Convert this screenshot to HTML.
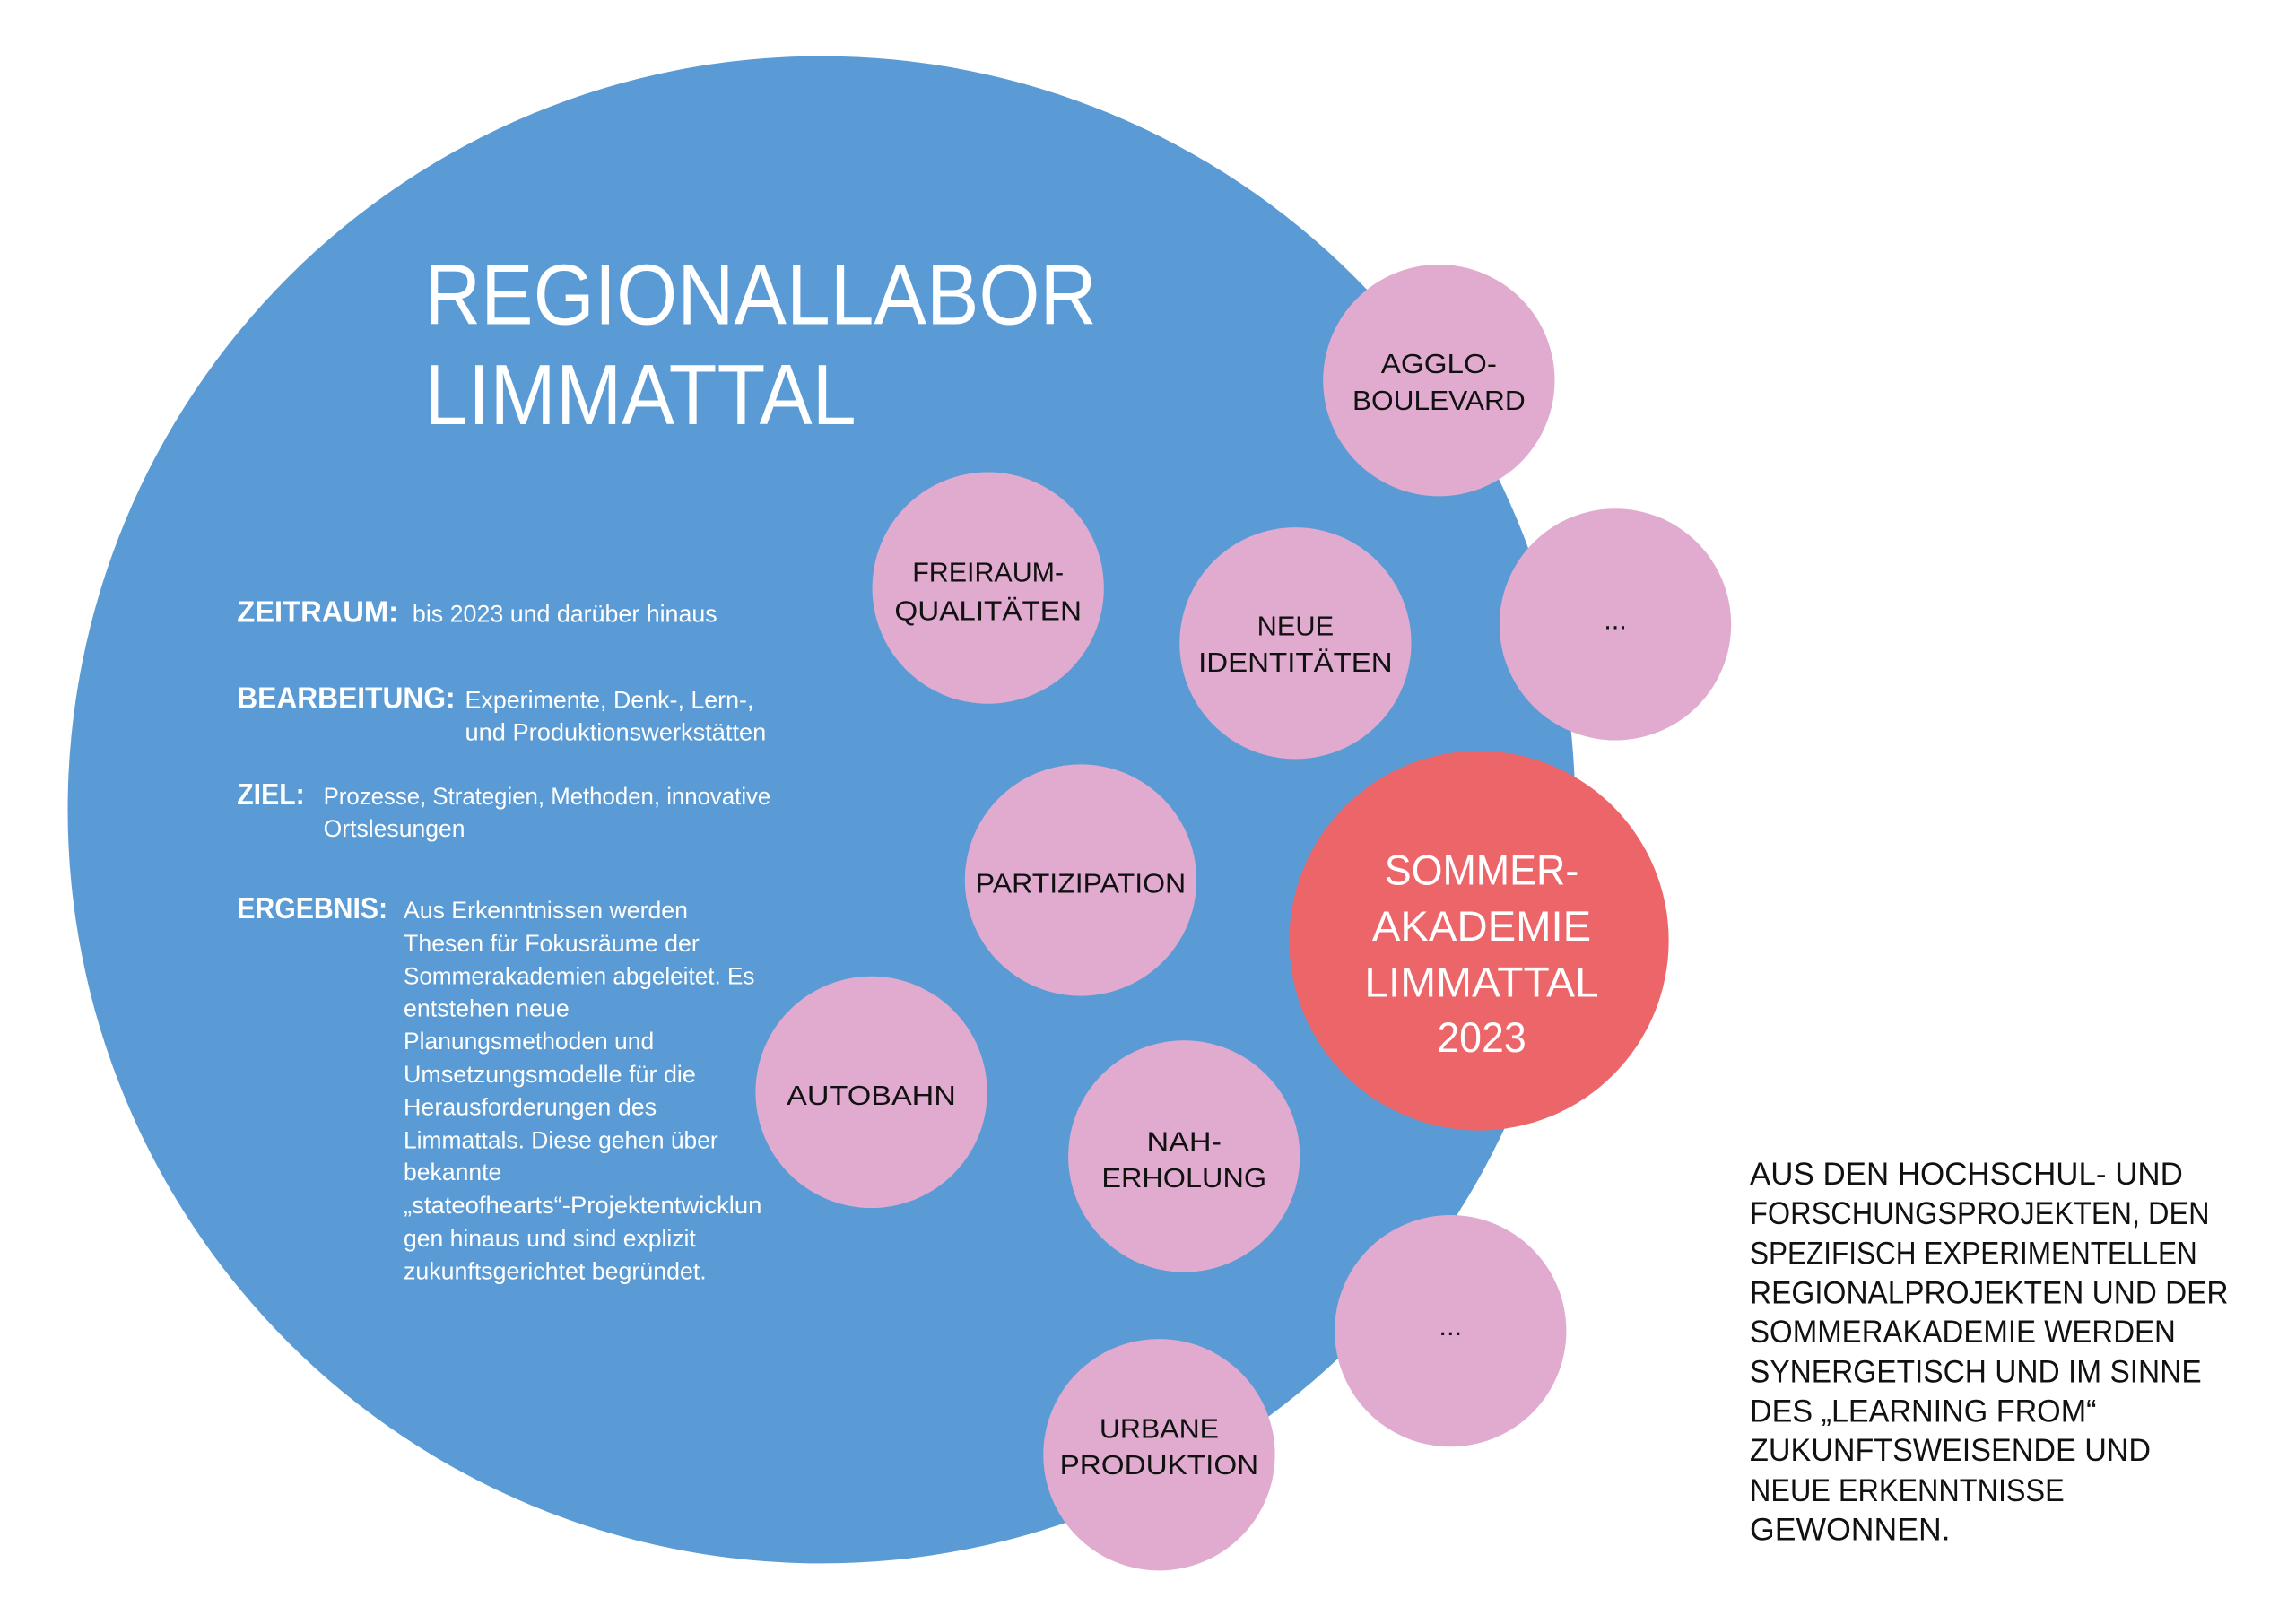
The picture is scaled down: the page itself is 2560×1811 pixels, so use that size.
<!DOCTYPE html>
<html><head><meta charset="utf-8"><style>
html,body{margin:0;padding:0;background:#fff;}
svg{display:block;}
text{font-family:"Liberation Sans",sans-serif;}
</style></head><body>
<svg width="2560" height="1811" viewBox="0 0 2560 1811" xmlns="http://www.w3.org/2000/svg">
<g transform="scale(0.9934)">
<circle cx="922" cy="909" r="846" fill="#5a9bd5"/>
<g fill="#e0abcf">
<circle cx="1615" cy="427" r="130"/>
<circle cx="1813" cy="701" r="130"/>
<circle cx="1109" cy="660" r="130"/>
<circle cx="1454" cy="722" r="130"/>
<circle cx="1213" cy="988" r="130"/>
<circle cx="978" cy="1226" r="130"/>
<circle cx="1329" cy="1298" r="130"/>
<circle cx="1628" cy="1494" r="130"/>
<circle cx="1301" cy="1633" r="130"/>
</g>
<circle cx="1660" cy="1056" r="213" fill="#ec6569"/>

<g fill="#fff">
<text x="476" y="364" font-size="96" textLength="755" lengthAdjust="spacingAndGlyphs">REGIONALLABOR</text>
<text x="476" y="476" font-size="96" textLength="485" lengthAdjust="spacingAndGlyphs">LIMMATTAL</text>

<g font-weight="bold">
<text x="266" y="698" font-size="34" textLength="181" lengthAdjust="spacingAndGlyphs">ZEITRAUM:</text>
<text x="266" y="795" font-size="34" textLength="245" lengthAdjust="spacingAndGlyphs">BEARBEITUNG:</text>
<text x="266" y="903" font-size="34" textLength="76" lengthAdjust="spacingAndGlyphs">ZIEL:</text>
<text x="266" y="1031" font-size="34" textLength="169" lengthAdjust="spacingAndGlyphs">ERGEBNIS:</text>
</g>
<text x="463" y="698" font-size="27" textLength="342" lengthAdjust="spacingAndGlyphs">bis 2023 und darüber hinaus</text>
<text x="522" y="795" font-size="27" textLength="324" lengthAdjust="spacingAndGlyphs">Experimente, Denk-, Lern-,</text>
<text x="522" y="831" font-size="27" textLength="338" lengthAdjust="spacingAndGlyphs">und Produktionswerkstätten</text>
<text x="363" y="903" font-size="27" textLength="502" lengthAdjust="spacingAndGlyphs">Prozesse, Strategien, Methoden, innovative</text>
<text x="363" y="939" font-size="27" textLength="159" lengthAdjust="spacingAndGlyphs">Ortslesungen</text>
<g font-size="27">
<text x="453" y="1031" textLength="319" lengthAdjust="spacingAndGlyphs">Aus Erkenntnissen werden</text>
<text x="453" y="1068" textLength="332" lengthAdjust="spacingAndGlyphs">Thesen für Fokusräume der</text>
<text x="453" y="1105" textLength="394" lengthAdjust="spacingAndGlyphs">Sommerakademien abgeleitet. Es</text>
<text x="453" y="1141" textLength="186" lengthAdjust="spacingAndGlyphs">entstehen neue</text>
<text x="453" y="1178" textLength="281" lengthAdjust="spacingAndGlyphs">Planungsmethoden und</text>
<text x="453" y="1215" textLength="328" lengthAdjust="spacingAndGlyphs">Umsetzungsmodelle für die</text>
<text x="453" y="1252" textLength="284" lengthAdjust="spacingAndGlyphs">Herausforderungen des</text>
<text x="453" y="1289" textLength="353" lengthAdjust="spacingAndGlyphs">Limmattals. Diese gehen über</text>
<text x="453" y="1325" textLength="110" lengthAdjust="spacingAndGlyphs">bekannte</text>
<text x="453" y="1362" textLength="402" lengthAdjust="spacingAndGlyphs">„stateofhearts“-Projektentwicklun</text>
<text x="453" y="1399" textLength="328" lengthAdjust="spacingAndGlyphs">gen hinaus und sind explizit</text>
<text x="453" y="1436" textLength="340" lengthAdjust="spacingAndGlyphs">zukunftsgerichtet begründet.</text>
</g>

<g font-size="48" text-anchor="middle">
<text x="1663" y="993" textLength="218" lengthAdjust="spacingAndGlyphs">SOMMER-</text>
<text x="1663" y="1056" textLength="246" lengthAdjust="spacingAndGlyphs">AKADEMIE</text>
<text x="1663" y="1119" textLength="263" lengthAdjust="spacingAndGlyphs">LIMMATTAL</text>
<text x="1663" y="1181" textLength="100" lengthAdjust="spacingAndGlyphs">2023</text>
</g>
</g>

<g fill="#111" font-size="31" text-anchor="middle">
<text x="1615" y="419" textLength="130" lengthAdjust="spacingAndGlyphs">AGGLO-</text>
<text x="1615" y="460" textLength="194" lengthAdjust="spacingAndGlyphs">BOULEVARD</text>
<text x="1813" y="706">...</text>
<text x="1109" y="653" textLength="170" lengthAdjust="spacingAndGlyphs">FREIRAUM-</text>
<text x="1109" y="696" textLength="210" lengthAdjust="spacingAndGlyphs">QUALITÄTEN</text>
<text x="1454" y="713" textLength="86" lengthAdjust="spacingAndGlyphs">NEUE</text>
<text x="1454" y="754" textLength="218" lengthAdjust="spacingAndGlyphs">IDENTITÄTEN</text>
<text x="1213" y="1002" textLength="236" lengthAdjust="spacingAndGlyphs">PARTIZIPATION</text>
<text x="978" y="1240" textLength="190" lengthAdjust="spacingAndGlyphs">AUTOBAHN</text>
<text x="1329" y="1292" textLength="84" lengthAdjust="spacingAndGlyphs">NAH-</text>
<text x="1329" y="1333" textLength="185" lengthAdjust="spacingAndGlyphs">ERHOLUNG</text>
<text x="1628" y="1499">...</text>
<text x="1301" y="1614" textLength="134" lengthAdjust="spacingAndGlyphs">URBANE</text>
<text x="1301" y="1655" textLength="223" lengthAdjust="spacingAndGlyphs">PRODUKTION</text>
</g>

<g fill="#111" font-size="35">
<text x="1964" y="1330" textLength="486" lengthAdjust="spacingAndGlyphs">AUS DEN HOCHSCHUL- UND</text>
<text x="1964" y="1374" textLength="516" lengthAdjust="spacingAndGlyphs">FORSCHUNGSPROJEKTEN, DEN</text>
<text x="1964" y="1419" textLength="502" lengthAdjust="spacingAndGlyphs">SPEZIFISCH EXPERIMENTELLEN</text>
<text x="1964" y="1463" textLength="537" lengthAdjust="spacingAndGlyphs">REGIONALPROJEKTEN UND DER</text>
<text x="1964" y="1507" textLength="478" lengthAdjust="spacingAndGlyphs">SOMMERAKADEMIE WERDEN</text>
<text x="1964" y="1552" textLength="507" lengthAdjust="spacingAndGlyphs">SYNERGETISCH UND IM SINNE</text>
<text x="1964" y="1596" textLength="389" lengthAdjust="spacingAndGlyphs">DES „LEARNING FROM“</text>
<text x="1964" y="1640" textLength="450" lengthAdjust="spacingAndGlyphs">ZUKUNFTSWEISENDE UND</text>
<text x="1964" y="1685" textLength="353" lengthAdjust="spacingAndGlyphs">NEUE ERKENNTNISSE</text>
<text x="1964" y="1729" textLength="225" lengthAdjust="spacingAndGlyphs">GEWONNEN.</text>
</g>
</g>
</svg>
</body></html>
